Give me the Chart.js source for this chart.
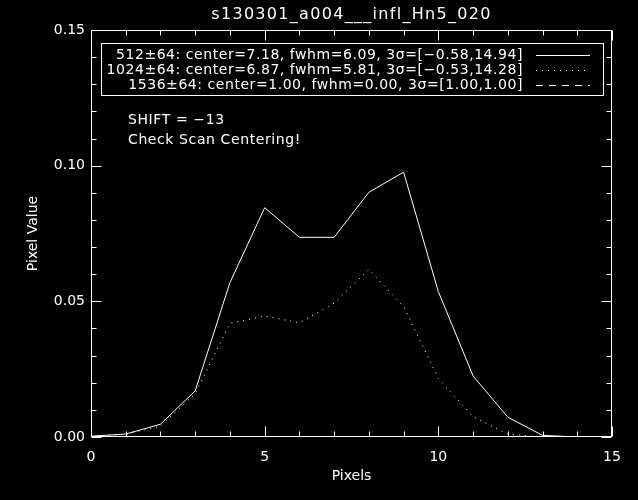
<!DOCTYPE html>
<html>
<head>
<meta charset="utf-8">
<script src="https://cdn.jsdelivr.net/npm/chart.js@4"></script>
<style>
    body { margin: 0; background: #000; }
    #wrap { width: 638px; height: 500px; }
</style>
</head>
<body>
<div id="wrap"><canvas id="chart" width="638" height="500"></canvas></div>
<script>
// Datos
const pixels = [0, 1, 2, 3, 4, 5, 6, 7, 8, 9, 10, 11, 12, 13, 14];
const flux512 = [0.0003, 0.0011, 0.0047, 0.0170, 0.0569, 0.0845, 0.0736, 0.0736, 0.0902, 0.0976, 0.0536, 0.0225, 0.0073, 0.0006, 0.0000];
const flux1024 = [0.0002, 0.0010, 0.0040, 0.0160, 0.0419, 0.0446, 0.0421, 0.0493, 0.0618, 0.0480, 0.0216, 0.0075, 0.0011, 0.0000, 0.0000];
const flux1536 = [];

const seriesLabels = [
    '512\u00b164: center=7.18, fwhm=6.09, 3\u03c3=[\u22120.58,14.94]',
    '1024\u00b164: center=6.87, fwhm=5.81, 3\u03c3=[\u22120.53,14.28]',
    '1536\u00b164: center=1.00, fwhm=0.00, 3\u03c3=[1.00,1.00]',
];
const notes = ['SHIFT = \u221213', 'Check Scan Centering!'];
const plotTitle = 's130301_a004___infl_Hn5_020';

const xMin = 0, xMax = 15, xStep = 5;
const yMin = 0, yMax = 0.15, yStep = 0.05;

const FONT = '"DejaVu Sans", sans-serif';

function toPoints(values) {
    return values.map((v, i) => ({ x: pixels[i], y: v }));
}

/**
 * Dibuja marco, ticks internos, titulo, leyenda y notas (estilo IDL)
 */
const idlFrame = {
    id: 'idlFrame',
    beforeDraw: function(chart) {
        const ctx = chart.ctx;
        ctx.save();
        ctx.fillStyle = '#000';
        ctx.fillRect(0, 0, chart.width, chart.height);
        ctx.restore();
    },
    afterDraw: function(chart) {
        const { ctx, chartArea: a, scales } = chart;
        const L = Math.round(a.left) + 0.5, R = Math.round(a.right) - 0.5;
        const T = Math.round(a.top) + 0.5, B = Math.round(a.bottom) - 0.5;

        ctx.save();
        ctx.strokeStyle = '#fff';
        ctx.lineWidth = 1;
        ctx.strokeRect(L, T, R - L, B - T);

        // ticks en x (menores cada 1, mayores cada 5)
        ctx.beginPath();
        for (let i = xMin; i <= xMax; i++) {
            const px = Math.round(scales.x.getPixelForValue(i)) + 0.5;
            const len = i % 5 === 0 ? 10 : 5;
            ctx.moveTo(px, B); ctx.lineTo(px, B - len);
            ctx.moveTo(px, T); ctx.lineTo(px, T + len);
        }
        // ticks en y (menores cada 0.01)
        for (let j = 0; j <= 15; j++) {
            const py = Math.round(scales.y.getPixelForValue(j / 100)) + 0.5;
            const len = j % 5 === 0 ? 10 : 5;
            ctx.moveTo(L, py); ctx.lineTo(L + len, py);
            ctx.moveTo(R, py); ctx.lineTo(R - len, py);
        }
        ctx.stroke();

        // titulo
        ctx.fillStyle = '#fff';
        ctx.font = '16px ' + FONT;
        ctx.letterSpacing = '1.3px';
        ctx.textAlign = 'center';
        ctx.textBaseline = 'middle';
        ctx.fillText(plotTitle, (a.left + a.right) / 2, 15);

        // leyenda
        ctx.strokeRect(101.5, 43.5, 502, 52);
        ctx.font = '14px ' + FONT;
        ctx.letterSpacing = '0.55px';
        ctx.textAlign = 'right';
        const rows = [55, 70, 85];
        chart.data.datasets.forEach((ds, k) => {
            ctx.fillText(seriesLabels[k], 523, rows[k]);
            ctx.save();
            ctx.setLineDash(ds.borderDash || []);
            ctx.beginPath();
            ctx.moveTo(536, rows[k] + 0.5);
            ctx.lineTo(590, rows[k] + 0.5);
            ctx.stroke();
            ctx.restore();
        });

        // notas
        ctx.textAlign = 'left';
        ctx.letterSpacing = '0.6px';
        ctx.fillText(notes[0], 128, 120);
        ctx.fillText(notes[1], 128, 140);
        ctx.restore();
    },
};

const chart = new Chart(document.getElementById('chart'), {
    type: 'line',
    data: {
        datasets: [
            { label: '512', data: toPoints(flux512), borderColor: '#fff', borderWidth: 1, pointRadius: 0, tension: 0 },
            { label: '1024', data: toPoints(flux1024), borderColor: '#fff', borderWidth: 1, borderDash: [1, 5], pointRadius: 0, tension: 0 },
            { label: '1536', data: toPoints(flux1536), borderColor: '#fff', borderWidth: 1, borderDash: [7, 6], pointRadius: 0, tension: 0 },
        ],
    },
    options: {
        responsive: false,
        animation: false,
        layout: { padding: { left: 0, right: 26, top: 30, bottom: 0 } },
        plugins: {
            legend: { display: false },
            title: { display: false },
            tooltip: { enabled: false },
        },
        scales: {
            x: {
                type: 'linear',
                min: xMin,
                max: xMax,
                grid: { display: false, drawTicks: false },
                border: { display: false },
                ticks: { stepSize: xStep, color: '#fff', padding: 12, font: { family: FONT, size: 14 } },
                title: { display: true, text: 'Pixels', color: '#fff', padding: { top: 0, bottom: 15 }, font: { family: FONT, size: 14 } },
                afterFit: function(scale) { scale.height = 63; },
            },
            y: {
                min: yMin,
                max: yMax,
                grid: { display: false, drawTicks: false },
                border: { display: false },
                ticks: {
                    stepSize: yStep,
                    color: '#fff',
                    padding: 6,
                    font: { family: FONT, size: 14 },
                    callback: (v) => Number(v).toFixed(2),
                },
                title: { display: true, text: 'Pixel Value', color: '#fff', padding: { top: 25, bottom: 0 }, font: { family: FONT, size: 14 } },
                afterFit: function(scale) { scale.width = 91; },
            },
        },
    },
    plugins: [idlFrame],
});
</script>
</body>
</html>
